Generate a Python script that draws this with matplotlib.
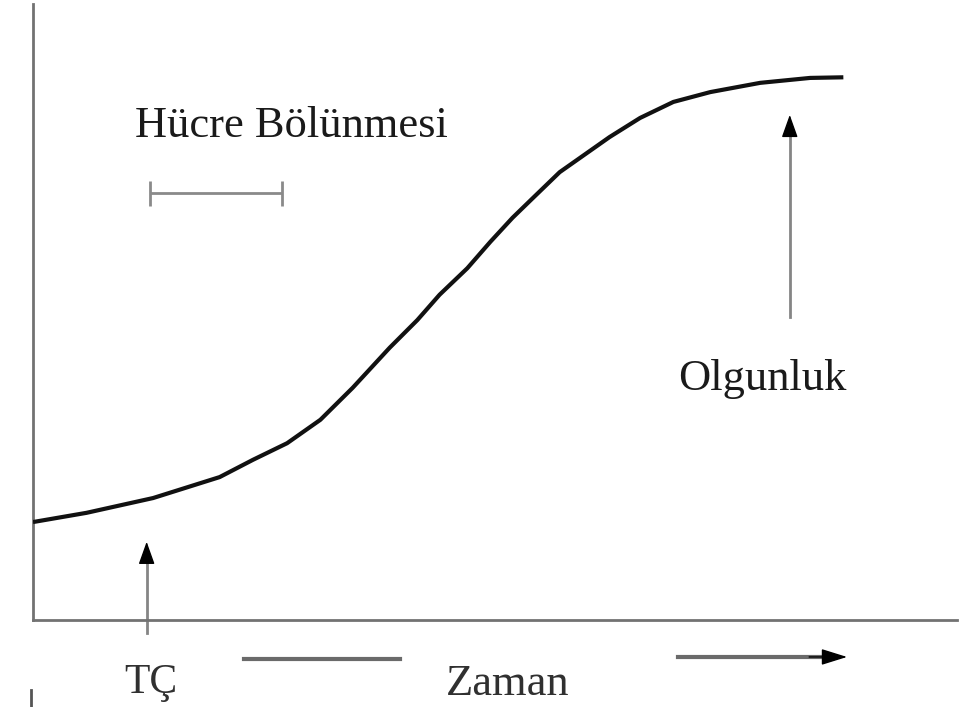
import numpy as np
import matplotlib
matplotlib.use("Agg")
import matplotlib.pyplot as plt

# growth curve (time vs. size, arbitrary units 0-100)
zaman = [0.0, 5.8, 13.0, 20.2, 23.8, 27.5, 31.1, 34.6, 38.6, 41.6, 44.0, 47.0, 49.5, 51.9,
         54.1, 57.0, 62.4, 65.7, 69.3, 73.3, 78.7, 84.1, 87.7]
boyut = [15.9, 17.4, 19.8, 23.2, 26.0, 28.7, 32.5, 37.7, 44.2, 48.7, 52.8, 57.1, 61.4, 65.3,
         68.5, 72.7, 78.4, 81.5, 84.1, 85.7, 87.2, 88.0, 88.1]

# labelled events
tc_x, tc_y = 12.3, 12.7          # TÇ arrow tip
olgun_x, olgun_y = 81.9, 82.0    # Olgunluk arrow tip
bolunme = [12.7, 27.0]           # cell division interval
bolunme_y = 69.3

plt.rcParams['font.family'] = ['Liberation Serif', 'DejaVu Serif']

fig = plt.figure(figsize=(9.69, 7.07), dpi=100)
ax = fig.add_axes([33/969, 87/707, 924/969, 616/707])
ax.set_xlim(0, 100)
ax.set_ylim(0, 100)

axis_col = '#727272'
for s in ['top', 'right']:
    ax.spines[s].set_visible(False)
for s in ['left', 'bottom']:
    ax.spines[s].set_color(axis_col)
    ax.spines[s].set_linewidth(2.0)
ax.set_xticks([])
ax.set_yticks([])

ax.plot(zaman, boyut, color='#111111', lw=3.0, solid_capstyle='butt',
        solid_joinstyle='round', zorder=3)


def up_arrow(x, y0, y1, shaft='#858585'):
    # gray shaft with a solid black head
    ax.plot([x, x], [y0, y1 - 2], color=shaft, lw=2.0, clip_on=False)
    ax.annotate('', xy=(x, y1), xytext=(x, y1 - 3), annotation_clip=False,
                arrowprops=dict(arrowstyle='-|>,head_length=1.4,head_width=0.5',
                                color='black', lw=1.0, shrinkA=0, shrinkB=0))


up_arrow(tc_x, -2.1, tc_y)
up_arrow(olgun_x, 49.2, olgun_y)

# cell division interval
mid = np.mean(bolunme)
ax.errorbar([mid], [bolunme_y], xerr=[[mid - bolunme[0]], [bolunme[1] - mid]],
            fmt='none', ecolor='#8a8a8a', elinewidth=2.0, capsize=9, capthick=2.0)

ax.text(28.0, 80.2, 'Hücre Bölünmesi', fontsize=32, ha='center', va='center', color='#1a1a1a')
ax.text(78.9, 37.3, 'Olgunluk', fontsize=32, ha='center', va='baseline', color='#1a1a1a')

# time axis caption below the plot
ax.text(12.7, -11.9, 'TÇ', fontsize=30, ha='center', va='baseline', color='#303030', clip_on=False)
ax.text(51.4, -12.2, 'Zaman', fontsize=32, ha='center', va='baseline', color='#303030', clip_on=False)
ax.plot([22.8, 39.7], [-6.3, -6.3], color='#6a6a6a', lw=3.0, clip_on=False)
ax.plot([69.8, 85.5], [-6.0, -6.0], color='#6a6a6a', lw=3.0, clip_on=False)
ax.annotate('', xy=(88.1, -6.0), xytext=(84.0, -6.0), annotation_clip=False,
            arrowprops=dict(arrowstyle='-|>,head_length=1.6,head_width=0.5',
                            color='black', lw=1.0, shrinkA=0, shrinkB=0))
ax.plot([-0.2, -0.2], [-11.4, -14.1], color='#555555', lw=2.0, clip_on=False)

fig.savefig('out.png', dpi=100, facecolor='white')
